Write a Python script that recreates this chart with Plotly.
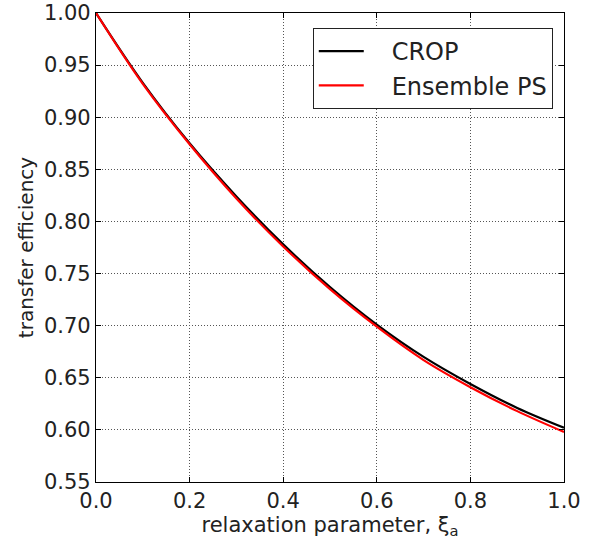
import plotly.graph_objects as go

xi = [0.0, 0.1, 0.2, 0.3, 0.4, 0.5, 0.6, 0.7, 0.8, 0.9, 1.0]
crop = [1.000, 0.933, 0.875, 0.824, 0.778, 0.737, 0.701, 0.670, 0.644, 0.621, 0.602]
ens = [1.000, 0.932, 0.874, 0.822, 0.776, 0.735, 0.699, 0.667, 0.641, 0.618, 0.598]

xticks = [0.0, 0.2, 0.4, 0.6, 0.8, 1.0]
yticks = [0.55, 0.60, 0.65, 0.70, 0.75, 0.80, 0.85, 0.90, 0.95, 1.00]

pad = "\u00a0\u00a0\u00a0"
fig = go.Figure()
fig.add_trace(go.Scatter(x=xi, y=crop, mode="lines", name=pad + "CROP", legendgroup="a",
                         line=dict(color="#000000", width=2.2, shape="spline")))
fig.add_trace(go.Scatter(x=xi, y=ens, mode="lines", name=pad + "Ensemble PS", legendgroup="b",
                         line=dict(color="#ff0000", width=2.2, shape="spline")))

font_fam = "DejaVu Sans"
axis_common = dict(
    showline=True, linecolor="black", linewidth=1.2, mirror="ticks",
    ticks="inside", ticklen=5, tickcolor="black", tickwidth=1,
    showgrid=True, gridcolor="#555555", griddash="1px,2px", gridwidth=1,
    zeroline=False, automargin=False,
    tickfont=dict(family=font_fam, size=21, color="#222222"),
)

fig.update_layout(
    width=595, height=539,
    margin=dict(l=96, r=31, t=13, b=57),
    paper_bgcolor="white", plot_bgcolor="white",
    showlegend=True,
    legend=dict(
        x=0.976, y=0.968, xanchor="right", yanchor="top",
        bgcolor="white", bordercolor="#222222", borderwidth=1,
        font=dict(family=font_fam, size=24, color="#222222"),
        traceorder="grouped", tracegroupgap=0, itemwidth=45,
    ),
    xaxis=dict(
        range=[0, 1], tickvals=xticks, ticktext=[f"{v:.1f}" for v in xticks],
        title=dict(text="relaxation parameter, ξ<sub>a</sub>",
                   font=dict(family=font_fam, size=21, color="#222222"), standoff=2),
        **axis_common,
    ),
    yaxis=dict(
        range=[0.55, 1.0], tickvals=yticks, ticktext=[f"{v:.2f}" for v in yticks],
        title=dict(text="transfer efficiency",
                   font=dict(family=font_fam, size=20, color="#222222"), standoff=4),
        **axis_common,
    ),
)

fig.write_html("out.html")
